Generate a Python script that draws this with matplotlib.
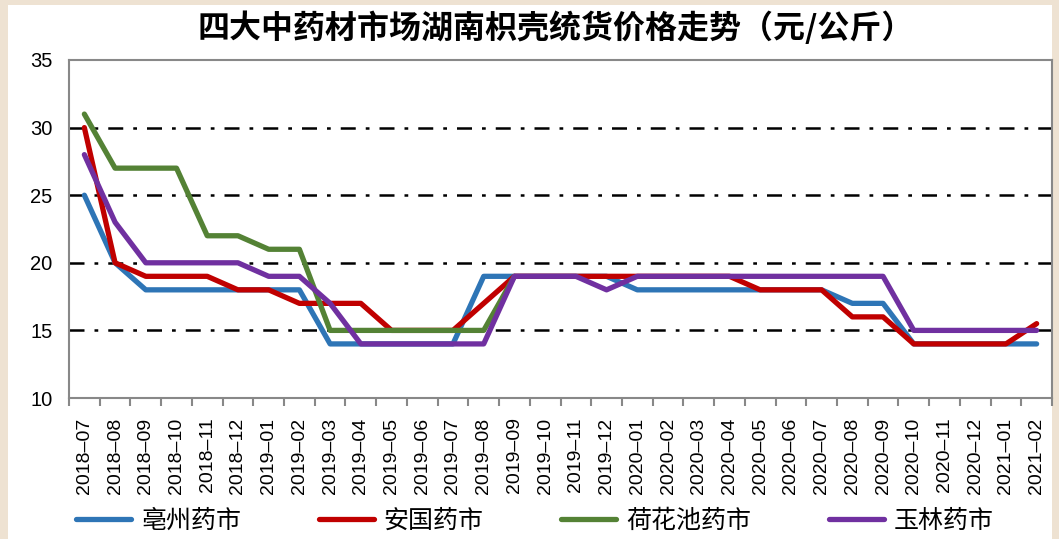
import numpy as np
import matplotlib.pyplot as plt
from matplotlib.patches import Rectangle

plt.rcParams['font.family'] = ['Noto Sans CJK SC', 'DejaVu Sans']

# 月份
months = ["2018-07", "2018-08", "2018-09", "2018-10", "2018-11", "2018-12",
          "2019-01", "2019-02", "2019-03", "2019-04", "2019-05", "2019-06",
          "2019-07", "2019-08", "2019-09", "2019-10", "2019-11", "2019-12",
          "2020-01", "2020-02", "2020-03", "2020-04", "2020-05", "2020-06",
          "2020-07", "2020-08", "2020-09", "2020-10", "2020-11", "2020-12",
          "2021-01", "2021-02"]

# 各市场价格
bozhou = [25, 20, 18, 18, 18, 18, 18, 18, 14, 14, 14, 14, 14, 19, 19, 19,
          19, 19, 18, 18, 18, 18, 18, 18, 18, 17, 17, 14, 14, 14, 14, 14]
anguo = [30, 20, 19, 19, 19, 18, 18, 17, 17, 17, 15, 15, 15, 17, 19, 19,
         19, 19, 19, 19, 19, 19, 18, 18, 18, 16, 16, 14, 14, 14, 14, 15.5]
hehuachi = [31, 27, 27, 27, 22, 22, 21, 21, 15, 15, 15, 15, 15, 15, 19] + [np.nan] * 17
yulin = [28, 23, 20, 20, 20, 20, 19, 19, 17, 14, 14, 14, 14, 14, 19, 19,
         19, 18, 19, 19, 19, 19, 19, 19, 19, 19, 19, 15, 15, 15, 15, 15]

names = ["亳州药市", "安国药市", "荷花池药市", "玉林药市"]
colors = ["#2e75b6", "#c00000", "#548235", "#7030a0"]

fig = plt.figure(figsize=(10.59, 5.39), dpi=100)
fig.patch.set_facecolor("#eee2d2")
# 白色底板
fig.patches.append(Rectangle((8 / 1059, 0), 1044 / 1059, 1 - 5 / 539,
                             transform=fig.transFigure, facecolor="white",
                             edgecolor="none", zorder=-10))

ax = fig.add_axes([69 / 1059, 1 - 398 / 539, (1052 - 69) / 1059, (398 - 60) / 539])
ax.set_facecolor("white")

x = np.arange(len(months))
for data, name, c in zip([bozhou, anguo, hehuachi, yulin], names, colors):
    ax.plot(x, data, color=c, lw=3.8, label=name, solid_capstyle="round")

ax.set_xlim(-0.5, len(months) - 0.5)
ax.set_ylim(10, 35)
ax.set_yticks([10, 15, 20, 25, 30, 35])
for yv in [15, 20, 25, 30]:
    ax.axhline(yv, color="black", lw=1.8, ls=(0, (6, 4, 1.5, 4)), zorder=0)

ax.set_xticks(x)
ax.set_xticklabels([m.replace("-", "–") for m in months], rotation=90,
                   fontsize=14, family=['Liberation Sans'])
ax.set_xticks(np.arange(-0.5, len(months)), minor=True)
ax.tick_params(axis="x", which="major", length=0, pad=14)
ax.tick_params(axis="x", which="minor", length=6, color="#888888", width=1.5)
ax.tick_params(axis="y", length=0, pad=12)
for lab in ax.get_yticklabels():
    lab.set_family(['Liberation Sans'])
    lab.set_fontsize(14.5)
for s in ax.spines.values():
    s.set_color("#888888")
    s.set_linewidth(1.5)

fig.text(0.525, 1 - 28 / 539, "四大中药材市场湖南枳壳统货价格走势（元/公斤）",
         ha="center", va="center", fontsize=23, fontweight="bold")

fig.legend(loc="center", bbox_to_anchor=(0.505, 1 - 521 / 539), ncol=4,
           frameon=False, fontsize=18, handlelength=2.2, columnspacing=3.1,
           handletextpad=0.4)

fig.savefig("out.png", dpi=100, facecolor=fig.get_facecolor())
